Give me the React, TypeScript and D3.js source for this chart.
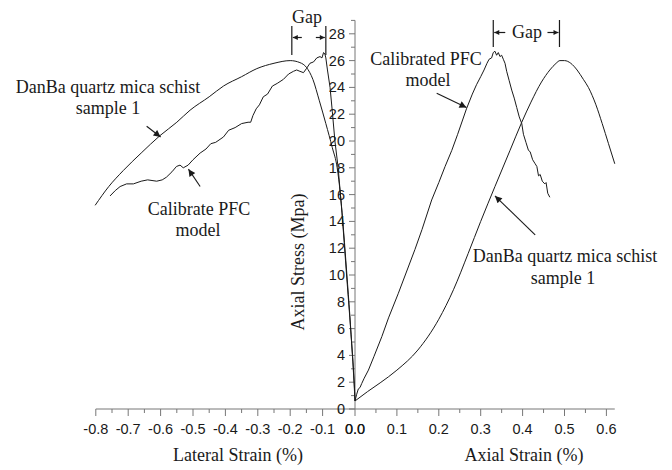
import React from "react";
import * as d3 from "d3";

// ---------- data (strain %, stress MPa) ----------
const lateralDanBa: [number, number][] = [
  [-0.802, 15.2], [-0.76, 16.6], [-0.715, 17.8], [-0.66, 19.1], [-0.602, 20.4], [-0.55, 21.4],
  [-0.509, 22.3], [-0.45, 23.3], [-0.406, 24.1], [-0.35, 24.8], [-0.303, 25.4], [-0.25, 25.8],
  [-0.2, 26.0], [-0.17, 25.85], [-0.15, 25.5], [-0.13, 24.6], [-0.11, 23.0], [-0.09, 21.3],
  [-0.07, 19.5], [-0.055, 18.0], [-0.045, 16.0], [-0.035, 13.2], [-0.025, 10.0], [-0.016, 7.0],
  [-0.008, 4.0], [-0.003, 2.0], [0, 0.6],
];

const lateralPFC: [number, number][] = [
  [-0.756, 15.9], [-0.74, 16.3], [-0.725, 16.6], [-0.705, 16.8], [-0.684, 16.8], [-0.66, 17.0],
  [-0.64, 17.1], [-0.612, 17.0], [-0.595, 17.1], [-0.582, 17.3], [-0.565, 17.7], [-0.551, 18.1],
  [-0.54, 18.2], [-0.53, 18.0], [-0.515, 18.2], [-0.5, 18.6], [-0.478, 19.1], [-0.46, 19.4],
  [-0.445, 19.8], [-0.43, 19.9], [-0.406, 20.3], [-0.39, 20.8], [-0.37, 21.0], [-0.35, 21.3],
  [-0.33, 21.4], [-0.322, 21.4], [-0.315, 21.9], [-0.305, 22.4], [-0.295, 22.7], [-0.283, 23.3],
  [-0.27, 23.5], [-0.255, 24.1], [-0.24, 24.3], [-0.221, 24.6], [-0.205, 25.0], [-0.19, 25.2],
  [-0.18, 25.3], [-0.17, 25.2], [-0.159, 25.1], [-0.15, 25.4], [-0.139, 25.8], [-0.128, 25.9],
  [-0.118, 26.2], [-0.108, 26.3], [-0.102, 26.2], [-0.097, 26.6], [-0.093, 26.5], [-0.09, 26.2],
  [-0.085, 25.3], [-0.077, 24.0], [-0.07, 22.2], [-0.062, 20.0], [-0.052, 18.0], [-0.04, 14.6],
  [-0.026, 10.0], [-0.016, 6.8], [-0.006, 3.5], [-0.002, 1.8], [0, 0.6],
];

const axialPFC: [number, number][] = [
  [0, 0.6], [0.004, 1.1], [0.008, 1.5], [0.012, 1.6], [0.016, 1.9], [0.022, 2.3], [0.032, 2.9],
  [0.045, 3.9], [0.064, 5.4], [0.08, 6.8], [0.103, 8.6], [0.12, 10.0], [0.143, 11.9], [0.16, 13.4],
  [0.183, 15.6], [0.2, 16.9], [0.215, 18.1], [0.231, 19.3], [0.245, 20.5], [0.266, 22.4],
  [0.28, 23.5], [0.29, 24.2], [0.3, 24.8], [0.308, 25.3], [0.315, 25.8], [0.32, 26.1],
  [0.326, 26.2], [0.33, 26.6], [0.334, 26.7], [0.338, 26.4], [0.342, 26.6], [0.346, 26.3],
  [0.35, 26.4], [0.354, 26.1], [0.358, 25.8], [0.362, 25.2], [0.368, 24.5], [0.374, 23.8],
  [0.38, 23.2], [0.386, 22.5], [0.392, 21.8], [0.398, 21.3], [0.402, 20.5], [0.408, 19.9],
  [0.414, 19.3], [0.418, 19.2], [0.424, 18.6], [0.43, 18.3], [0.434, 18.1], [0.438, 17.4],
  [0.442, 17.5], [0.447, 17.0], [0.453, 16.8], [0.456, 16.9], [0.46, 16.1], [0.465, 15.8],
];

const axialDanBa: [number, number][] = [
  [0, 0.6], [0.03, 1.3], [0.06, 1.95], [0.1, 2.9], [0.15, 4.4], [0.2, 6.7], [0.235, 8.9],
  [0.27, 11.6], [0.3, 14.0], [0.334, 16.6], [0.37, 19.3], [0.398, 21.4], [0.42, 22.9], [0.445, 24.4],
  [0.465, 25.3], [0.48, 25.8], [0.489, 26.0], [0.5, 26.0], [0.515, 25.8], [0.53, 25.3],
  [0.545, 24.6], [0.557, 24.0], [0.575, 22.7], [0.59, 21.3], [0.605, 19.8], [0.62, 18.3],
];

const yTicksMajor = d3.range(0, 29, 2);
const yTicksMinor = d3.range(1, 30, 2);
const xLeftMajor = [-0.8, -0.7, -0.6, -0.5, -0.4, -0.3, -0.2, -0.1];
const xLeftMinor = [-0.75, -0.65, -0.55, -0.45, -0.35, -0.25, -0.15, -0.05];
const xRightMajor = [0, 0.1, 0.2, 0.3, 0.4, 0.5, 0.6];
const xRightMinor = [0.05, 0.15, 0.25, 0.35, 0.45, 0.55];

// gaps between peak strains (lateral, axial)
const lateralGap: [number, number] = [-0.195, -0.09];
const axialGap: [number, number] = [0.33, 0.488];

// annotation arrows: [tail, tip] in data coordinates
const arrowLatDanBa = [[-0.643, 21.1], [-0.6, 20.3]];
const arrowLatPFC = [[-0.478, 16.6], [-0.514, 17.9]];
const arrowAxPFC = [[0.195, 23.56], [0.266, 22.5]];
const arrowAxDanBa = [[0.43, 13.0], [0.334, 15.9]];

const SERIF = "'Liberation Serif', 'Times New Roman', serif";
const SANS = "'Liberation Sans', Arial, sans-serif";

export default function App() {
  const W = 672, H = 470;
  const axisX = 355, axisY = 409;
  const y = d3.scaleLinear().domain([0, 29]).range([axisY, axisY - 29 * 13.4]);
  const xL = d3.scaleLinear().domain([-0.8, 0]).range([95.8, axisX]);
  const xR = d3.scaleLinear().domain([0, 0.62]).range([axisX, axisX + 0.62 * 419]);
  const f1 = d3.format(".1f");
  const fmt = (v: number) => f1(v).replace("\u2212", "-");

  const lineL = d3.line<[number, number]>().x(d => xL(d[0])).y(d => y(d[1]));
  const lineR = d3.line<[number, number]>().x(d => xR(d[0])).y(d => y(d[1]));
  const smoothL = d3.line<[number, number]>().x(d => xL(d[0])).y(d => y(d[1])).curve(d3.curveMonotoneX);
  const smoothR = d3.line<[number, number]>().x(d => xR(d[0])).y(d => y(d[1])).curve(d3.curveMonotoneX);

  const axisColor = "#777";
  const ink = "#1a1a1a";

  const arrow = (a: number[][], sx: (v: number) => number, key: string) => (
    <line key={key} x1={sx(a[0][0])} y1={y(a[0][1])} x2={sx(a[1][0])} y2={y(a[1][1])}
      stroke={ink} strokeWidth={1.1} markerEnd="url(#ah)" />
  );

  const gap = (g: [number, number], sx: (v: number) => number, yTop: number, yBot: number, yArr: number, textX: number, textY: number, shaft: number, key: string) => {
    const a = sx(g[0]), b = sx(g[1]);
    return (
      <g key={key}>
        <line x1={a} x2={a} y1={yTop} y2={yBot} stroke={ink} strokeWidth={1.2} />
        <line x1={b} x2={b} y1={yTop} y2={yBot} stroke={ink} strokeWidth={1.2} />
        <line x1={a + shaft} x2={a + 1} y1={yArr} y2={yArr} stroke={ink} strokeWidth={1.2} markerEnd="url(#ahs)" />
        <line x1={b - shaft} x2={b - 1} y1={yArr} y2={yArr} stroke={ink} strokeWidth={1.2} markerEnd="url(#ahs)" />
        <text x={textX} y={textY} fontFamily={SERIF} fontSize={18} textAnchor="middle" fill={ink}>Gap</text>
      </g>
    );
  };

  return (
    <svg width={W} height={H} style={{ position: "absolute", left: 0, top: 0, background: "#fff" }}>
      <defs>
        <marker id="ah" viewBox="0 0 10 10" refX="10" refY="5" markerWidth="9" markerHeight="7"
          markerUnits="userSpaceOnUse" orient="auto">
          <path d="M0,0 L10,5 L0,10 z" fill={ink} />
        </marker>
        <marker id="ahs" viewBox="0 0 10 10" refX="10" refY="5" markerWidth="7" markerHeight="5"
          markerUnits="userSpaceOnUse" orient="auto">
          <path d="M0,0 L10,5 L0,10 z" fill={ink} />
        </marker>
      </defs>
      <rect width={W} height={H} fill="#fff" />

      {/* x axis */}
      <line x1={xL(-0.8)} x2={xR(0.62)} y1={axisY} y2={axisY} stroke={axisColor} strokeWidth={1} />
      {xLeftMajor.map(v => (
        <line key={"lM" + v} x1={xL(v)} x2={xL(v)} y1={axisY} y2={axisY + 7} stroke={axisColor} />
      ))}
      {xLeftMinor.map(v => (
        <line key={"lm" + v} x1={xL(v)} x2={xL(v)} y1={axisY} y2={axisY + 4} stroke={axisColor} />
      ))}
      {xRightMajor.map(v => (
        <line key={"rM" + v} x1={xR(v)} x2={xR(v)} y1={axisY} y2={axisY + 7} stroke={axisColor} />
      ))}
      {xRightMinor.map(v => (
        <line key={"rm" + v} x1={xR(v)} x2={xR(v)} y1={axisY} y2={axisY + 4} stroke={axisColor} />
      ))}
      {xLeftMajor.concat([0]).map(v => (
        <text key={"lt" + v} x={xL(v)} y={434} textAnchor="middle" fontFamily={SANS} fontSize={14.5} fill={ink}>
          {fmt(v)}
        </text>
      ))}
      {xRightMajor.map(v => (
        <text key={"rt" + v} x={xR(v)} y={434} textAnchor="middle" fontFamily={SANS} fontSize={14.5} fill={ink}>
          {fmt(v)}
        </text>
      ))}

      {/* y axis */}
      <line x1={axisX} x2={axisX} y1={axisY} y2={y(29)} stroke={axisColor} strokeWidth={1} />
      {yTicksMajor.map(v => (
        <line key={"yM" + v} x1={axisX - 6} x2={axisX} y1={y(v)} y2={y(v)} stroke={axisColor} />
      ))}
      {yTicksMinor.map(v => (
        <line key={"ym" + v} x1={axisX - 4} x2={axisX} y1={y(v)} y2={y(v)} stroke={axisColor} />
      ))}
      {yTicksMajor.map(v => (
        <text key={"yt" + v} x={345} y={y(v) + 5} textAnchor="end" fontFamily={SANS} fontSize={14.5} fill={ink}>
          {v}
        </text>
      ))}

      {/* axis titles */}
      <text x={238} y={461} textAnchor="middle" fontFamily={SERIF} fontSize={18} fill={ink}>Lateral Strain (%)</text>
      <text x={524} y={461} textAnchor="middle" fontFamily={SERIF} fontSize={18} fill={ink}>Axial Strain (%)</text>
      <text transform="translate(304,262) rotate(-90)" textAnchor="middle" fontFamily={SERIF} fontSize={18} fill={ink}>
        Axial Stress (Mpa)
      </text>

      {/* curves */}
      <path d={smoothL(lateralDanBa) || ""} fill="none" stroke={ink} strokeWidth={1} />
      <path d={lineL(lateralPFC) || ""} fill="none" stroke={ink} strokeWidth={1} />
      <path d={smoothR(axialDanBa) || ""} fill="none" stroke={ink} strokeWidth={1} />
      <path d={lineR(axialPFC) || ""} fill="none" stroke={ink} strokeWidth={1} />

      {/* gap markers */}
      {gap(lateralGap, xL, 26, 55, 37.5, 307, 23, 10, "gl")}
      {gap(axialGap, xR, 20, 47, 32.5, 527, 38, 12, "gr")}

      {/* annotations */}
      <text x={108} y={93} textAnchor="middle" fontFamily={SERIF} fontSize={18} fill={ink}>DanBa quartz mica schist</text>
      <text x={108} y={114} textAnchor="middle" fontFamily={SERIF} fontSize={18} fill={ink}>sample 1</text>
      <text x={199} y={215} textAnchor="middle" fontFamily={SERIF} fontSize={18} fill={ink}>Calibrate PFC</text>
      <text x={198} y={236} textAnchor="middle" fontFamily={SERIF} fontSize={18} fill={ink}>model</text>
      <text x={426} y={65} textAnchor="middle" fontFamily={SERIF} fontSize={18} fill={ink}>Calibrated PFC</text>
      <text x={428} y={86} textAnchor="middle" fontFamily={SERIF} fontSize={18} fill={ink}>model</text>
      <text x={565} y={262} textAnchor="middle" fontFamily={SERIF} fontSize={18} fill={ink}>DanBa quartz mica schist</text>
      <text x={563} y={284} textAnchor="middle" fontFamily={SERIF} fontSize={18} fill={ink}>sample 1</text>

      {arrow(arrowLatDanBa, xL, "a1")}
      {arrow(arrowLatPFC, xL, "a2")}
      {arrow(arrowAxPFC, xR, "a3")}
      {arrow(arrowAxDanBa, xR, "a4")}
    </svg>
  );
}
